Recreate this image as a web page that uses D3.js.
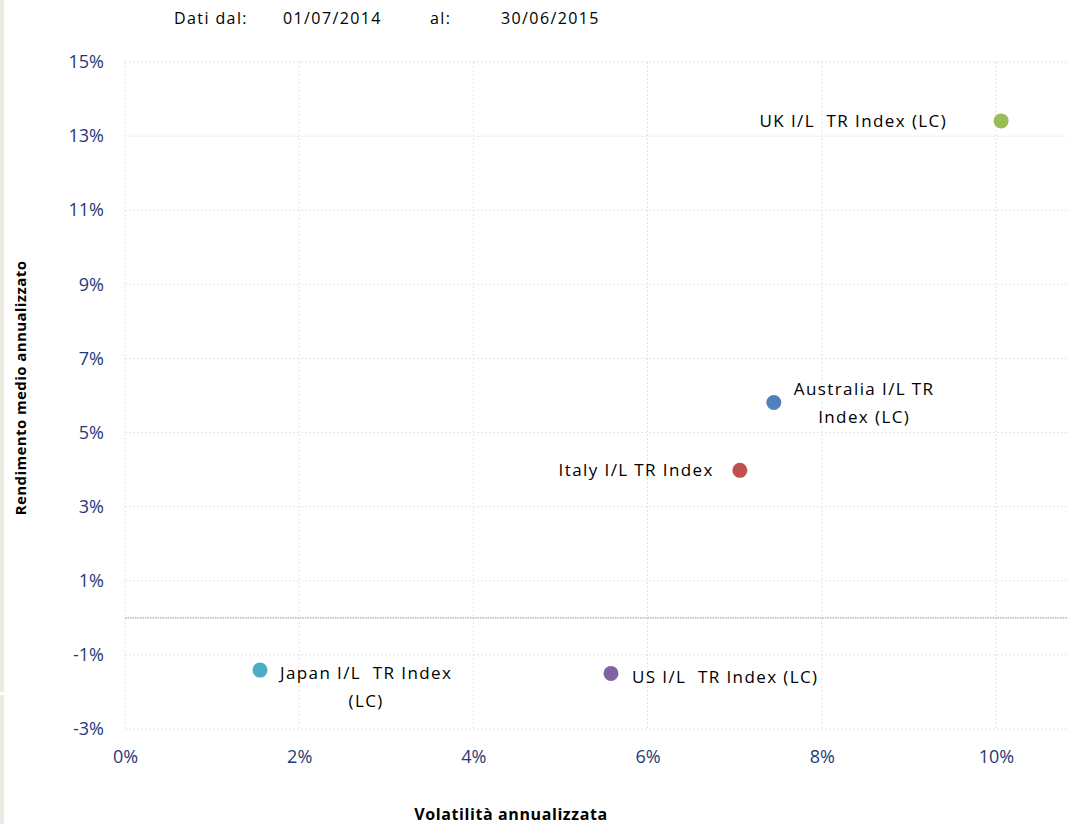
<!DOCTYPE html>
<html><head><meta charset="utf-8">
<script src="https://cdn.jsdelivr.net/npm/d3@7"></script>
<style>
body{margin:0;background:#fff;}
svg{display:block;font-family:"Open Sans",sans-serif;}
text{white-space:pre;}
</style></head>
<body><svg id="c" width="1068" height="824"></svg>
<script>
const names = ["UK I/L  TR Index (LC)","Australia I/L TR Index (LC)","Italy I/L TR Index","Japan I/L TR Index (LC)","US I/L TR Index (LC)"];
const labelLines = [["UK I/L  TR Index (LC)"],["Australia I/L TR","Index (LC)"],["Italy I/L TR Index"],["Japan I/L  TR Index","(LC)"],["US I/L  TR Index (LC)"]];
const volatility = [0.1006, 0.0745, 0.0706, 0.0155, 0.0558];
const returns = [0.1341, 0.0581, 0.0398, -0.0141, -0.0150];
const colors = ["#9bbb59","#4f81bd","#c0504d","#4bacc6","#8064a2"];
const labelSide = ["left","right","left","right","right"];
const xTicks = [0,0.02,0.04,0.06,0.08,0.10];
const yTicks = [0.15,0.13,0.11,0.09,0.07,0.05,0.03,0.01,-0.01,-0.03];

const FONT = '"Open Sans",sans-serif';
const svg = d3.select("#c");
svg.append("rect").attr("x",0).attr("y",0).attr("width",4).attr("height",692).attr("fill","#edeae0");
svg.append("rect").attr("x",0).attr("y",695).attr("width",4).attr("height",129).attr("fill","#edeae0");

const x = d3.scaleLinear().domain([0,0.11]).range([125,1083]);
const y = d3.scaleLinear().domain([-0.03,0.15]).range([729,62]);
const R = 1068;

const g = svg.append("g");
g.selectAll(".hg").data(yTicks).join("line")
 .attr("x1",x(0)).attr("x2",R).attr("y1",d=>y(d)).attr("y2",d=>y(d))
 .attr("stroke","#e4e4e4").attr("stroke-width",1).attr("stroke-dasharray","2,2");
g.selectAll(".vg").data(xTicks).join("line")
 .attr("y1",y(0.15)).attr("y2",y(-0.03)).attr("x1",d=>x(d)).attr("x2",d=>x(d))
 .attr("stroke","#e4e4e4").attr("stroke-width",1).attr("stroke-dasharray","2,2");
g.append("line").attr("x1",x(0)).attr("x2",R).attr("y1",y(0)).attr("y2",y(0))
 .attr("stroke","#a6a6a6").attr("stroke-width",1.3).attr("stroke-dasharray","1.5,1");

const fmt = d => Math.round(d*100) + "%";
const yAxis = d3.axisLeft(y).tickValues(yTicks).tickFormat(fmt).tickSize(0).tickPadding(21);
const ya = svg.append("g").attr("transform",`translate(${x(0)},0)`).call(yAxis);
ya.select(".domain").remove();
ya.selectAll("text").attr("font-size",18).attr("fill","#1f3a78").attr("font-family",FONT);

const xAxis = d3.axisBottom(x).tickValues(xTicks).tickFormat(fmt).tickSize(0).tickPadding(21);
const xa = svg.append("g").attr("transform",`translate(0,${y(-0.03)})`).call(xAxis);
xa.select(".domain").remove();
xa.selectAll("text").attr("font-size",18).attr("fill","#1f3a78").attr("font-family",FONT);

const idx = d3.range(names.length);
svg.selectAll(".pt").data(idx).join("circle")
 .attr("cx",i=>x(volatility[i])).attr("cy",i=>y(returns[i])).attr("r",7.5)
 .attr("fill",i=>colors[i]);

idx.forEach(i=>{
  const cx = x(volatility[i]), cy = y(returns[i]);
  const lines = labelLines[i];
  const t = svg.append("text").attr("font-size",17).attr("letter-spacing",1.4).attr("fill","#000");
  if(labelSide[i]==="left"){
    t.attr("text-anchor","end");
    lines.forEach((l,k)=>t.append("tspan").attr("x",cx-(i===0?54:26)).attr("y",cy+6+k*22).text(l));
  } else if(lines.length>1){
    const node = t.append("tspan").attr("x",0).attr("y",0).text(lines[0]);
    const w = node.node().getComputedTextLength();
    node.remove();
    const c = cx + 20 + w/2;
    t.attr("text-anchor","middle");
    const dy0 = i===1 ? -8 : 9;
    lines.forEach((l,k)=>t.append("tspan").attr("x",c).attr("y",cy+dy0+k*28).text(l));
  } else {
    t.attr("text-anchor","start");
    t.append("tspan").attr("x",cx+21).attr("y",cy+10).text(lines[0]);
  }
});

const hdr = [["Dati dal:",174],["01/07/2014",283],["al:",430],["30/06/2015",501]];
svg.selectAll(".hd").data(hdr).join("text").attr("x",d=>d[1]).attr("y",24)
 .attr("font-size",16).attr("letter-spacing",1.4).attr("fill","#000").text(d=>d[0]);

svg.append("text").attr("x",511).attr("y",820).attr("text-anchor","middle")
 .attr("font-size",16).attr("letter-spacing",0.6).attr("font-weight","bold").text("Volatilità annualizzata");
svg.append("text").attr("transform","translate(26,388) rotate(-90)").attr("text-anchor","middle")
 .attr("font-size",15).attr("letter-spacing",0.4).attr("font-weight","bold").text("Rendimento medio annualizzato");
</script></body></html>
